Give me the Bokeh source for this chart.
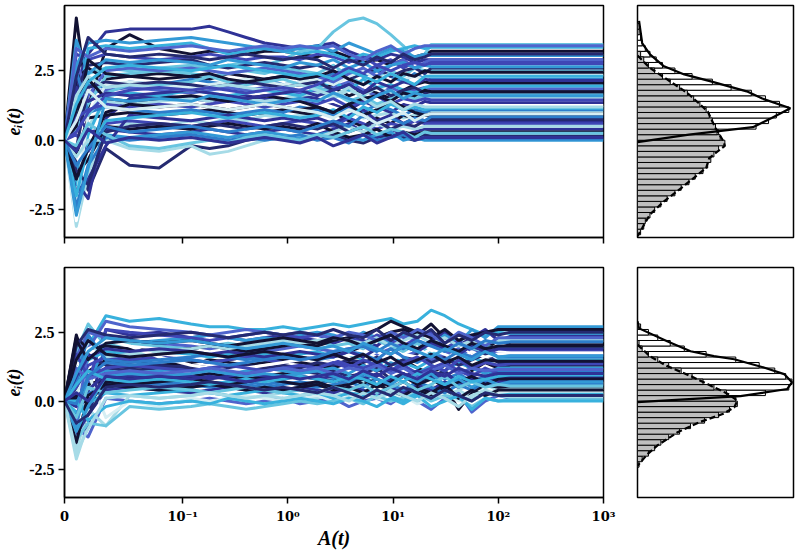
import numpy as np
from bokeh.plotting import figure
from bokeh.layouts import row, column
from bokeh.models import FixedTicker
from bokeh.embed import file_html
from bokeh.resources import INLINE

# ---------------- data ----------------
A_TOP = [0, 0.01, 0.02, 0.035, 0.055, 0.08, 0.12, 0.18, 0.27, 0.4, 0.6, 0.9, 1.3, 1.9,
         2.7, 3.8, 5.2, 7, 9.5, 12.5, 16, 20, 23]
A_BOT = [0, 0.01, 0.02, 0.035, 0.055, 0.08, 0.12, 0.18, 0.27, 0.4, 0.6, 0.9, 1.3, 1.9,
         2.7, 3.8, 5.2, 7, 9.5, 12.5, 17, 23, 31, 42, 56, 75, 100, 130]
A_END = 1000

T01 = [0, 4.4, 1.2, 3.3, 3.8, 3.3, 3.1, 3.2, 3.2, 3.1, 3.2, 3.2, 3.1, 3.0, 3.2, 3.0, 2.8, 2.9, 2.7, 2.9, 3.0, 3.1, 3.2]
T02 = [0, 2.0, 3.1, 3.9, 4.0, 4.0, 4.0, 4.1, 3.9, 3.7, 3.5, 3.4, 3.3, 3.4, 3.5, 3.2, 3.0, 2.9, 3.1, 3.0, 2.8, 2.9, 2.9]
T03 = [0, 1.5, 2.4, 2.6, 2.5, 2.6, 2.7, 2.6, 2.7, 2.8, 2.7, 2.9, 3.2, 3.3, 3.9, 4.3, 4.4, 4.2, 3.8, 3.4, 2.9, 3.1, 3.45]
T04 = [0, -0.8, -1.8, -0.3, -0.9, -1.0, -0.2, -0.3, -0.2, 0.0, 0.1, 0.1, 0.0, 0.1, 0.2, 0.0, -0.1, 0.1, 0.2, 0.1, 0.0, 0.2, 0.15]
T05 = [0, -3.1, -1.2, 0.4, 0.6, 0.5, 0.7, 0.6, 0.8, 0.7, 0.9, 0.8, 0.9, 1.0, 0.9, 1.1, 0.8, 0.9, 1.0, 0.8, 0.9, 1.0, 1.05]
T06 = [0, -1.5, -2.1, 0.8, 1.5, 1.6, 1.5, 1.4, 1.5, 1.6, 1.5, 1.4, 1.6, 1.5, 1.3, 1.1, 1.4, 1.2, 1.0, 1.3, 1.2, 1.4, 1.35]
T07 = [0, 3.1, 2.9, 3.1, 3.0, 2.9, 3.0, 3.1, 3.0, 2.9, 3.0, 3.0, 2.9, 3.1, 3.0, 2.8, 3.0, 2.7, 2.9, 2.6, 2.8, 2.7, 2.75]
T08 = [0, 0.9, 3.3, 3.4, 3.3, 3.4, 3.5, 3.3, 3.1, 3.2, 3.3, 3.2, 3.1, 3.2, 3.1, 2.9, 3.1, 3.0, 3.2, 3.3, 3.4, 3.3, 3.35]
T09 = [0, 2.2, 2.6, 2.2, 2.3, 2.4, 2.3, 2.2, 2.4, 2.3, 2.2, 2.3, 2.4, 2.2, 1.9, 1.6, 1.8, 1.7, 1.5, 1.8, 2.0, 2.1, 2.05]
T10 = [0, 1.2, 2.0, 1.9, 2.1, 2.0, 2.2, 2.1, 2.0, 2.1, 2.2, 2.0, 2.1, 2.2, 2.4, 2.6, 2.3, 2.5, 2.3, 2.1, 2.4, 2.2, 2.2]
T11 = [0, 2.8, 1.7, 1.8, 1.9, 1.8, 1.7, 1.8, 1.9, 1.8, 1.9, 1.8, 1.7, 1.8, 1.9, 2.1, 1.8, 1.6, 1.9, 1.7, 1.8, 1.9, 1.85]
T12 = [0, -2.6, 0.5, 1.4, 1.3, 1.4, 1.5, 1.4, 1.6, 1.5, 1.4, 1.5, 1.6, 1.7, 1.5, 1.8, 1.6, 1.9, 1.7, 1.6, 1.5, 1.6, 1.55]
T13 = [0, -0.5, 0.8, 0.9, 1.0, 0.9, 1.0, 1.1, 1.0, 0.9, 1.0, 1.1, 1.0, 0.9, 1.0, 0.7, 0.5, 0.8, 0.6, 0.9, 0.8, 0.9, 0.9]
T14 = [0, 0.4, 1.3, 2.3, 2.4, 2.5, 2.4, 2.3, 2.4, 2.5, 2.4, 2.6, 2.5, 2.4, 2.7, 2.3, 2.0, 2.2, 2.5, 2.3, 2.6, 2.5, 2.5]
T15 = [0, 1.0, 0.3, 0.4, 0.3, 0.2, 0.3, 0.4, 0.3, 0.2, 0.3, 0.4, 0.3, 0.2, 0.4, 0.6, 0.3, 0.1, 0.4, 0.2, 0.3, 0.4, 0.4]
T16 = [0, -1.0, -0.5, 0.2, 0.1, 0.2, 0.3, 0.2, 0.1, 0.2, 0.3, 0.2, 0.1, 0.2, 0.3, 0.1, 0.0, 0.2, 0.3, 0.0, 0.1, 0.0, 0.0]
T17 = [0, -2.9, -0.6, 1.1, 1.2, 1.1, 1.2, 1.3, 1.2, 1.1, 1.2, 1.3, 1.2, 1.3, 1.4, 1.2, 1.5, 1.3, 1.2, 1.4, 1.3, 1.2, 1.25]
T18 = [0, 1.8, 2.7, 2.8, 2.7, 2.8, 2.9, 2.7, 2.6, 2.7, 2.8, 2.7, 2.6, 2.7, 2.5, 2.2, 2.4, 2.6, 2.3, 2.5, 2.6, 2.4, 2.6]
T19 = [0, -1.6, 0.2, 1.6, 1.7, 1.6, 1.8, 1.7, 1.6, 1.7, 1.8, 1.7, 1.6, 1.9, 2.1, 1.8, 2.2, 1.9, 2.0, 1.8, 1.7, 1.9, 1.95]
T20 = [0, 0.2, -0.4, 0.6, 0.7, 0.6, 0.5, 0.6, 0.7, 0.6, 0.5, 0.6, 0.7, 0.6, 0.5, 0.8, 0.6, 0.4, 0.6, 0.5, 0.7, 0.6, 0.6]
T21 = [0, -1.2, -0.7, 0.5, 0.4, 0.5, 0.4, 0.5, 0.6, 0.5, 0.4, 0.5, 0.4, 0.6, 0.3, 0.1, 0.2, 0.4, 0.1, 0.3, 0.2, 0.3, 0.3]
T22 = [0, 2.5, 1.0, 1.2, 1.1, 1.0, 1.1, 1.0, 0.9, 1.0, 1.1, 1.0, 1.2, 1.1, 0.9, 1.2, 1.0, 1.3, 1.1, 0.9, 1.1, 1.0, 1.1]
T23 = [0, -2.2, 0.9, 2.0, 2.1, 2.0, 1.9, 2.0, 2.1, 2.2, 2.1, 2.0, 2.1, 2.2, 2.0, 2.3, 2.5, 2.2, 2.4, 2.2, 2.3, 2.2, 2.35]
T24 = [0, 0.6, 1.6, 2.5, 2.6, 2.5, 2.6, 2.5, 2.4, 2.5, 2.6, 2.5, 2.4, 2.3, 2.1, 2.4, 2.6, 2.3, 2.7, 2.9, 2.6, 2.8, 2.9]
T25 = [0, -1.9, -1.4, -0.2, 0.9, 0.8, 0.7, 0.8, 0.9, 0.8, 0.7, 0.8, 0.7, 0.8, 0.6, 0.9, 1.1, 0.7, 0.9, 0.6, 0.8, 0.7, 0.7]
T26 = [0, 1.4, 0.9, 1.7, 2.0, 2.0, 2.1, 2.3, 2.1, 2.0, 2.1, 2.2, 2.0, 1.9, 1.7, 1.4, 1.6, 1.3, 1.5, 1.7, 1.5, 1.6, 1.65]
T27 = [0, -0.3, 1.9, 2.1, 2.0, 2.1, 2.0, 1.9, 2.0, 2.1, 2.0, 1.9, 2.0, 2.1, 1.8, 2.0, 1.7, 1.9, 1.6, 1.8, 1.9, 1.7, 1.75]
T28 = [0, 2.7, 3.5, 3.6, 3.5, 3.6, 3.7, 3.6, 3.5, 3.4, 3.3, 3.2, 3.3, 3.4, 3.2, 3.5, 3.3, 3.1, 3.3, 3.2, 3.0, 3.1, 3.05]
T29 = [0, -0.6, 0.0, 0.0, -0.3, -0.4, -0.2, -0.5, -0.4, -0.2, 0.0, 0.1, 0.2, 0.1, 0.3, 0.5, 0.3, 0.6, 0.4, 0.5, 0.4, 0.5, 0.5]
T30 = [0, 0.8, 1.1, 1.3, 1.2, 1.3, 1.2, 1.3, 1.4, 1.3, 1.2, 1.3, 1.4, 1.3, 1.5, 1.2, 1.4, 1.6, 1.3, 1.5, 1.4, 1.5, 1.45]
T31 = [0, -2.4, -0.9, 0.1, 0.0, 0.1, 0.2, 0.1, 0.0, 0.1, 0.0, 0.1, 0.2, 0.0, 0.1, -0.1, 0.2, 0.0, 0.1, 0.2, 0.0, 0.1, 0.05]
T32 = [0, 1.1, 2.2, 1.5, 1.4, 1.5, 1.6, 1.5, 1.4, 1.5, 1.6, 1.5, 1.4, 1.2, 1.0, 1.3, 0.9, 1.1, 1.4, 1.2, 1.0, 0.9, 0.95]
T33 = [0, 3.6, 2.4, 2.9, 2.8, 2.9, 2.8, 2.7, 2.9, 2.8, 2.7, 2.6, 2.8, 2.7, 2.9, 2.6, 2.8, 2.5, 2.7, 2.8, 2.6, 2.7, 2.65]
T34 = [0, -1.1, -1.6, 0.3, 0.5, 0.6, 0.5, 0.6, 0.5, 0.4, 0.5, 0.6, 0.5, 0.4, 0.6, 0.3, 0.5, 0.7, 0.4, 0.6, 0.5, 0.7, 0.75]
T35 = [0, 0.5, 2.9, 2.4, 2.3, 2.2, 2.3, 2.4, 2.2, 2.1, 2.2, 2.3, 2.2, 2.3, 2.5, 2.2, 2.0, 2.3, 2.1, 2.4, 2.3, 2.5, 2.45]
T36 = [0, -2.0, -0.2, 0.7, 0.8, 0.9, 1.0, 0.9, 0.8, 0.9, 1.0, 0.9, 0.8, 0.9, 1.1, 0.8, 1.2, 1.0, 1.3, 1.1, 1.2, 1.1, 1.15]
T37 = [0, 1.9, 1.4, 1.7, 1.6, 1.7, 1.8, 1.7, 1.6, 1.5, 1.6, 1.7, 1.8, 1.6, 1.8, 2.0, 1.7, 2.1, 1.9, 2.1, 2.0, 2.2, 2.15]
T38 = [0, -0.2, 0.6, 0.2, -0.2, -0.3, -0.1, 0.0, -0.1, 0.1, 0.2, 0.1, 0.0, 0.2, 0.1, 0.3, 0.5, 0.2, 0.4, 0.3, 0.1, 0.3, 0.25]
T39 = [0, 3.3, 3.0, 3.3, 3.2, 3.3, 3.4, 3.3, 3.2, 3.3, 3.4, 3.3, 3.4, 3.3, 3.4, 3.1, 2.9, 3.2, 3.4, 3.1, 3.3, 3.4, 3.4]
T40 = [0, -1.4, -0.3, 1.0, 1.3, 1.2, 1.3, 1.2, 1.1, 1.2, 1.3, 1.2, 1.1, 1.2, 1.0, 1.3, 1.5, 1.6, 1.4, 1.7, 1.6, 1.8, 1.75]
T41 = [0, 1.6, 2.3, 1.9, 2.0, 1.9, 1.8, 1.9, 2.0, 1.9, 1.8, 1.9, 2.0, 1.8, 1.6, 1.9, 1.5, 1.2, 1.4, 1.1, 1.3, 1.2, 1.2]
T42 = [0, 0.3, 1.0, 1.6, 1.8, 1.9, 1.8, 1.9, 1.8, 1.7, 1.8, 1.9, 1.8, 2.0, 2.3, 2.6, 2.4, 2.7, 2.5, 2.7, 2.8, 2.7, 2.8]
T43 = [0, -0.9, -0.3, 0.5, 0.3, 0.4, 0.5, 0.4, 0.3, 0.4, 0.5, 0.4, 0.3, 0.5, 0.7, 0.5, 0.9, 0.6, 0.8, 0.6, 0.8, 0.7, 0.85]
T44 = [0, 2.3, 3.7, 3.1, 3.0, 3.1, 3.0, 2.9, 3.0, 3.1, 3.0, 2.9, 3.0, 2.9, 2.6, 2.9, 2.7, 3.0, 2.8, 3.1, 2.9, 3.0, 3.1]
T45 = [0, -2.7, -1.0, 1.5, 1.4, 1.5, 1.4, 1.6, 1.5, 1.4, 1.3, 1.4, 1.5, 1.4, 1.7, 1.5, 1.3, 1.6, 1.8, 1.5, 1.7, 1.6, 1.6]
T46 = [0, 0.7, 1.8, 1.2, 1.1, 1.2, 1.3, 1.2, 1.1, 1.2, 1.3, 1.2, 1.1, 1.0, 0.8, 1.1, 0.9, 0.6, 0.8, 1.0, 0.7, 0.9, 0.95]
T47 = [0, 1.3, 2.1, 2.6, 2.7, 2.6, 2.5, 2.6, 2.7, 2.6, 2.5, 2.4, 2.3, 2.4, 2.2, 2.5, 2.3, 2.1, 2.4, 2.2, 2.0, 2.3, 2.3]
T48 = [0, -0.4, 0.4, -0.1, 0.1, 0.0, 0.1, 0.0, -0.1, 0.0, 0.1, 0.0, -0.1, 0.1, -0.2, 0.0, 0.2, -0.1, 0.1, 0.3, 0.0, 0.1, 0.1]

B01 = [0, 2.4, 1.0, 1.5, 1.4, 1.6, 1.5, 1.4, 1.5, 1.6, 1.5, 1.4, 1.5, 1.6, 1.7, 1.8, 2.0, 2.3, 2.5, 2.6, 2.4, 2.8, 2.3, 2.0, 2.3, 1.9, 2.2, 2.05]
B02 = [0, 1.3, 2.0, 3.1, 2.9, 3.0, 2.8, 2.7, 2.7, 2.6, 2.6, 2.7, 2.6, 2.7, 2.8, 2.7, 2.8, 2.9, 3.0, 2.8, 2.9, 3.3, 3.1, 2.8, 2.6, 2.4, 2.5, 2.45]
B03 = [0, -2.1, -0.8, 0.9, 0.8, 0.7, 0.8, 0.9, 0.8, 0.7, 0.8, 0.7, 0.6, 0.7, 0.8, 0.6, 0.7, 0.5, 0.8, 0.4, 0.6, 0.3, 0.7, 0.5, 0.2, 0.6, 0.4, 0.45]
B04 = [0, -1.3, -0.9, 2.6, 2.4, 2.5, 2.3, 2.4, 2.3, 2.2, 2.3, 2.4, 2.3, 2.2, 2.1, 2.3, 2.2, 2.0, 2.4, 2.1, 1.8, 2.2, 2.5, 2.0, 2.3, 2.6, 2.2, 2.35]
B05 = [0, -0.3, -0.6, 0.3, 0.0, 0.3, 0.2, 0.3, 0.4, 0.3, 0.2, 0.3, 0.2, 0.4, 0.3, 0.2, -0.3, 0.8, 0.7, 0.6, 0.5, 0.9, 0.6, 0.3, 0.5, 0.2, 0.4, 0.3]
B06 = [0, 0.4, 1.1, 1.4, 1.5, 1.3, 1.4, 1.5, 1.4, 1.3, 1.4, 1.5, 1.4, 1.3, 1.2, 1.4, 1.3, 1.1, 1.3, 1.5, 1.2, 1.0, 1.3, 1.6, 1.1, 1.4, 1.2, 1.3]
B07 = [0, 2.1, 0.5, 2.2, 2.1, 2.2, 2.3, 2.4, 2.3, 2.2, 2.3, 2.2, 2.4, 2.5, 2.4, 2.2, 2.5, 2.3, 2.1, 2.4, 2.2, 2.0, 2.4, 2.1, 2.6, 2.3, 2.7, 2.7]
B08 = [0, -1.0, -1.3, 0.1, 0.0, -0.1, 0.0, 0.1, 0.0, -0.1, 0.0, 0.1, -0.1, 0.0, 0.1, -0.2, 0.0, 0.1, -0.1, 0.2, 0.0, -0.3, 0.1, 0.3, -0.4, 0.0, 0.2, 0.1]
B09 = [0, 1.4, 1.2, 1.9, 1.8, 1.7, 1.6, 1.4, 1.3, 1.2, 1.1, 1.0, 1.1, 1.0, 0.9, 1.1, 1.0, 0.9, 1.2, 1.0, 0.8, 1.1, 0.9, 0.7, 1.0, 0.8, 0.6, 0.65]
B10 = [0, 0.9, -0.2, 0.6, 0.7, 0.6, 0.5, 0.6, 0.7, 0.6, 0.5, 0.6, 0.7, 0.6, 0.8, 0.7, 0.9, 0.6, 0.8, 1.0, 0.7, 1.1, 0.8, 1.0, 0.7, 0.9, 1.1, 1.05]
B11 = [0, -1.6, -0.4, 1.2, 1.1, 1.2, 1.3, 1.2, 1.1, 1.0, 1.1, 1.2, 1.1, 1.0, 1.1, 0.9, 1.0, 1.2, 0.8, 1.0, 0.7, 0.9, 1.1, 0.6, 0.9, 0.7, 0.8, 0.85]
B12 = [0, 1.8, 2.8, 2.0, 2.1, 2.0, 1.9, 2.0, 2.1, 2.0, 1.9, 2.0, 2.1, 2.2, 2.0, 2.1, 1.9, 2.2, 2.0, 1.8, 2.1, 1.7, 1.9, 2.2, 1.8, 2.0, 1.9, 1.95]
B13 = [0, -0.7, 0.7, 2.6, 2.5, 2.4, 2.3, 2.2, 2.3, 2.4, 2.5, 2.4, 2.3, 2.4, 2.2, 2.3, 2.1, 2.4, 2.2, 2.0, 2.3, 2.5, 1.9, 2.2, 1.8, 1.7, 1.9, 1.85]
B14 = [0, -1.8, -0.3, -0.9, 0.2, 0.1, 0.2, 0.3, 0.2, 0.1, 0.2, 0.3, 0.2, 0.1, 0.3, 0.2, 0.4, 0.1, 0.3, 0.2, 0.4, 0.6, 0.2, 0.4, 0.1, 0.3, 0.2, 0.15]
B15 = [0, 0.1, 0.6, 0.8, 0.9, 0.8, 0.9, 1.0, 0.9, 0.8, 0.9, 1.0, 0.9, 0.8, 0.7, 0.9, 0.6, 0.8, 0.5, 0.7, 0.4, 0.2, 0.5, -0.3, 0.3, 0.6, 0.5, 0.55]
B16 = [0, 0.6, 1.5, 1.8, 1.7, 1.8, 1.7, 1.6, 1.7, 1.8, 1.7, 1.6, 1.7, 1.8, 1.6, 1.7, 1.5, 1.3, 1.6, 1.4, 1.2, 1.5, 1.8, 1.3, 1.6, 1.4, 1.5, 1.5]
B17 = [0, -1.2, -0.5, 0.4, 0.5, 0.4, 0.3, 0.4, 0.5, 0.4, 0.3, 0.4, 0.5, 0.4, 0.3, 0.5, 0.4, 0.2, 0.5, 0.3, 0.6, 0.4, 0.7, 0.5, 0.8, 0.6, 0.7, 0.75]
B18 = [0, 0.3, 1.0, -0.6, 0.0, -0.2, 0.1, 0.0, 0.1, 0.2, 0.1, 0.0, 0.1, 0.2, 0.0, 0.1, 0.3, 0.1, 0.0, 0.2, -0.1, 0.1, 0.3, 0.0, 0.2, 0.4, 0.3, 0.3]
B19 = [0, 1.6, 2.5, 2.3, 2.2, 2.1, 2.0, 1.9, 2.0, 1.9, 1.8, 1.9, 2.0, 1.9, 1.8, 1.9, 2.0, 1.7, 1.9, 1.6, 1.8, 1.5, 1.7, 1.9, 1.6, 1.8, 1.7, 1.7]
B20 = [0, -0.5, 0.3, 0.5, 0.6, 0.7, 0.6, 0.5, 0.6, 0.7, 0.6, 0.7, 0.6, 0.5, 0.6, 0.7, 0.5, 0.8, 0.6, 0.4, 0.7, 0.5, 0.3, 0.6, 0.4, 0.7, 0.6, 0.6]
B21 = [0, 2.3, 1.9, 2.0, 1.9, 1.8, 1.9, 2.0, 1.9, 1.8, 1.9, 2.0, 2.1, 2.0, 2.2, 2.3, 2.4, 2.6, 2.9, 2.7, 2.5, 2.3, 2.6, 2.2, 2.4, 2.5, 2.6, 2.6]
B22 = [0, -0.9, 0.9, 1.1, 1.0, 1.1, 1.2, 1.1, 1.0, 1.1, 1.2, 1.1, 1.0, 1.1, 1.2, 1.0, 1.3, 1.1, 1.4, 1.2, 1.0, 1.3, 1.1, 1.4, 1.2, 1.0, 1.2, 1.2]
B23 = [0, 0.8, 1.7, 1.3, 1.2, 1.3, 1.2, 1.1, 1.2, 1.3, 1.2, 1.3, 1.2, 1.4, 1.3, 1.5, 1.4, 1.6, 1.3, 1.5, 1.7, 1.4, 1.6, 1.3, 1.5, 1.7, 1.4, 1.4]
B24 = [0, -1.4, -0.8, -0.9, -0.2, -0.3, -0.2, -0.1, -0.2, -0.3, -0.2, -0.1, 0.0, -0.1, 0.0, 0.1, -0.1, 0.2, 0.0, 0.1, 0.3, 0.0, 0.2, 0.1, -0.2, 0.1, 0.0, 0.05]
B25 = [0, 0.5, 1.3, 1.6, 1.5, 1.6, 1.5, 1.4, 1.5, 1.6, 1.5, 1.4, 1.5, 1.6, 1.5, 1.3, 1.2, 1.4, 1.1, 1.3, 1.0, 1.2, 1.4, 1.1, 0.9, 1.2, 1.0, 1.0]
B26 = [0, 1.0, 2.1, 1.6, 1.7, 1.8, 1.9, 2.0, 1.9, 2.0, 2.1, 2.2, 2.1, 2.2, 2.3, 2.2, 2.1, 2.3, 2.0, 2.2, 2.4, 2.1, 2.3, 2.0, 2.2, 2.1, 2.2, 2.2]
B27 = [0, -0.2, 0.4, 1.0, 0.9, 1.0, 0.9, 0.8, 0.9, 1.0, 0.9, 0.8, 0.9, 0.8, 0.9, 0.7, 0.8, 1.0, 0.7, 0.9, 1.1, 0.8, 1.0, 0.7, 0.9, 0.6, 0.9, 0.9]
B28 = [0, -0.4, -0.1, 0.3, 0.2, 0.3, 0.4, 0.3, 0.2, 0.3, 0.4, 0.3, 0.2, 0.3, 0.1, 0.3, 0.2, 0.4, 0.2, 0.0, 0.3, 0.1, 0.4, 0.2, 0.0, 0.3, 0.2, 0.25]
B29 = [0, 0.2, -0.1, 0.7, 0.6, 0.7, 0.8, 0.7, 0.6, 0.7, 0.8, 0.7, 0.6, 0.7, 0.5, 0.6, 0.8, 0.5, 0.7, 0.9, 0.6, 0.8, 0.5, 0.7, 0.9, 0.6, 0.8, 0.8]
B30 = [0, -0.8, 1.9, 2.9, 2.7, 2.6, 2.5, 2.4, 2.5, 2.6, 2.5, 2.4, 2.5, 2.4, 2.3, 2.5, 2.4, 2.2, 2.5, 2.3, 2.6, 2.4, 2.1, 2.5, 2.3, 2.0, 2.3, 2.3]
B31 = [0, 1.1, 1.9, 2.2, 2.0, 1.6, 1.3, 1.2, 1.1, 1.2, 1.3, 1.4, 1.5, 1.6, 1.5, 1.7, 1.6, 1.8, 1.5, 1.7, 1.6, 1.9, 1.7, 1.5, 1.8, 1.6, 1.7, 1.75]
B32 = [0, 0.7, 2.4, 1.5, 1.4, 1.5, 1.6, 1.7, 1.6, 1.5, 1.6, 1.7, 1.6, 1.5, 1.6, 1.8, 1.7, 1.5, 1.9, 1.6, 1.4, 1.7, 1.5, 1.8, 1.6, 1.9, 1.6, 1.6]
B33 = [0, 1.7, 0.9, 1.2, 1.3, 1.2, 1.1, 1.2, 1.3, 1.2, 1.1, 1.2, 1.3, 1.2, 1.4, 1.2, 1.5, 1.3, 1.1, 1.4, 1.6, 1.3, 1.1, 1.5, 1.2, 1.4, 1.3, 1.35]
B34 = [0, -1.5, 0.2, 0.6, 0.5, 0.4, 0.5, 0.6, 0.5, 0.4, 0.5, 0.4, 0.5, 0.6, 0.4, 0.5, 0.3, 0.6, 0.4, 0.2, 0.5, 0.3, 0.6, 0.1, 0.4, 0.2, 0.4, 0.4]
B35 = [0, 2.0, 2.6, 2.4, 2.3, 2.4, 2.5, 2.4, 2.3, 2.4, 2.5, 2.4, 2.5, 2.4, 2.6, 2.4, 2.3, 2.6, 2.2, 2.5, 2.3, 2.6, 2.1, 2.4, 2.2, 2.5, 2.4, 2.5]
B36 = [0, 0.0, -0.7, -0.2, 0.0, -0.1, 0.0, -0.1, 0.1, 0.0, -0.1, 0.0, 0.1, 0.0, -0.1, 0.1, 0.0, -0.2, 0.1, -0.1, 0.2, -0.2, 0.0, 0.2, -0.3, 0.1, 0.0, 0.0]
B37 = [0, 0.9, 1.6, 1.9, 1.8, 1.9, 1.8, 1.7, 1.8, 1.7, 1.6, 1.7, 1.8, 1.7, 1.6, 1.8, 1.6, 1.9, 1.7, 2.0, 1.8, 2.1, 1.9, 1.7, 2.0, 1.8, 1.9, 1.9]
B38 = [0, -1.1, -0.2, 0.9, 1.0, 0.9, 1.0, 1.1, 1.0, 0.9, 1.0, 0.9, 1.0, 1.1, 0.9, 0.7, 1.0, 0.8, 0.6, 0.9, 0.7, 1.0, 0.6, 0.8, 0.5, 0.8, 0.6, 0.7]
B39 = [0, 2.2, 1.5, 2.1, 2.2, 2.1, 2.2, 2.1, 2.0, 2.1, 2.2, 2.3, 2.2, 2.1, 2.3, 2.2, 2.0, 2.2, 2.4, 2.1, 1.9, 2.2, 2.0, 1.8, 2.1, 1.9, 2.0, 2.0]
B40 = [0, -0.6, 0.5, 0.3, 0.4, 0.5, 0.4, 0.3, 0.4, 0.5, 0.4, 0.3, 0.4, 0.3, 0.5, 0.4, 0.6, 0.3, 0.5, 0.7, 0.4, 0.6, 0.9, 0.5, 0.7, 0.5, 0.6, 0.55]
B41 = [0, 1.2, 0.8, 1.0, 1.1, 1.0, 1.1, 1.2, 1.1, 1.0, 1.1, 1.2, 1.1, 1.2, 1.0, 1.2, 1.1, 1.3, 1.0, 1.2, 0.9, 1.1, 1.3, 1.0, 1.2, 1.1, 1.15, 1.15]
B42 = [0, -1.9, -1.0, 0.1, 0.2, 0.1, 0.2, 0.3, 0.2, 0.1, 0.2, 0.1, 0.2, 0.3, 0.2, 0.0, 0.3, 0.1, 0.4, 0.2, 0.0, 0.3, 0.1, -0.2, 0.2, 0.4, 0.2, 0.2]
B43 = [0, 1.5, 2.2, 1.7, 1.6, 1.7, 1.8, 1.7, 1.6, 1.7, 1.8, 1.7, 1.6, 1.5, 1.7, 1.5, 1.7, 1.4, 1.6, 1.3, 1.5, 1.7, 1.4, 1.6, 1.3, 1.5, 1.45, 1.45]
B44 = [0, 0.6, 1.1, 0.8, 0.7, 0.8, 0.7, 0.6, 0.7, 0.8, 0.7, 0.8, 0.9, 0.8, 0.7, 0.9, 0.8, 0.6, 0.9, 0.7, 1.0, 0.8, 0.6, 0.9, 0.7, 0.8, 0.9, 0.95]
B45 = [0, -0.1, 0.9, 1.4, 1.3, 1.4, 1.5, 1.4, 1.3, 1.4, 1.5, 1.6, 1.5, 1.6, 1.8, 1.9, 2.0, 1.8, 2.1, 1.9, 2.2, 2.0, 1.8, 2.1, 1.9, 2.2, 2.1, 2.15]
B46 = [0, -0.8, -0.5, 0.5, 0.6, 0.5, 0.6, 0.7, 0.6, 0.5, 0.4, 0.5, 0.4, 0.3, 0.5, 0.3, 0.1, 0.4, 0.2, 0.5, 0.3, 0.1, 0.4, 0.2, 0.0, 0.3, 0.2, 0.2]
B47 = [0, 1.0, 1.8, 2.3, 2.2, 2.1, 2.2, 2.1, 2.0, 1.9, 2.0, 2.1, 2.0, 1.9, 2.0, 1.8, 2.1, 1.9, 1.7, 2.0, 1.8, 1.6, 1.9, 1.7, 1.5, 1.8, 1.6, 1.65]
B48 = [0, 0.3, 0.0, 0.9, 0.8, 0.9, 0.8, 0.9, 0.8, 0.7, 0.8, 0.9, 0.8, 0.9, 1.0, 0.8, 1.1, 0.9, 1.2, 1.0, 0.8, 1.1, 0.9, 1.2, 1.0, 0.9, 1.0, 1.0]

TOP_SERIES = [T01, T02, T03, T04, T05, T06, T07, T08, T09, T10, T11, T12, T13, T14, T15, T16,
              T17, T18, T19, T20, T21, T22, T23, T24, T25, T26, T27, T28, T29, T30, T31, T32,
              T33, T34, T35, T36, T37, T38, T39, T40, T41, T42, T43, T44, T45, T46, T47, T48]
BOT_SERIES = [B01, B02, B03, B04, B05, B06, B07, B08, B09, B10, B11, B12, B13, B14, B15, B16,
              B17, B18, B19, B20, B21, B22, B23, B24, B25, B26, B27, B28, B29, B30, B31, B32,
              B33, B34, B35, B36, B37, B38, B39, B40, B41, B42, B43, B44, B45, B46, B47, B48]

# histograms (bin centres, bin width 0.2) and density curves, top panel
TOP_GRAY_E = [-3.3, -3.1, -2.9, -2.7, -2.5, -2.3, -2.1, -1.9, -1.7, -1.5, -1.3, -1.1, -0.9, -0.7, -0.5, -0.3, -0.1,
              0.1, 0.3, 0.5, 0.7, 0.9, 1.1, 1.3, 1.5, 1.7, 1.9, 2.1, 2.3, 2.5, 2.7, 2.9, 3.1]
TOP_GRAY_D = [0.02, 0.04, 0.05, 0.08, 0.11, 0.15, 0.19, 0.24, 0.28, 0.33, 0.37, 0.42, 0.45, 0.47, 0.49, 0.52, 0.56,
              0.53, 0.51, 0.50, 0.48, 0.46, 0.44, 0.40, 0.36, 0.32, 0.27, 0.21, 0.16, 0.11, 0.07, 0.04, 0.02]
TOP_WHITE_E = [0.1, 0.3, 0.5, 0.7, 0.9, 1.1, 1.3, 1.5, 1.7, 1.9, 2.1, 2.3, 2.5, 2.7, 2.9, 3.1, 3.3, 3.5, 3.7, 3.9, 4.1]
TOP_WHITE_D = [0.20, 0.52, 0.76, 0.84, 0.89, 0.97, 0.91, 0.82, 0.73, 0.60, 0.48, 0.35, 0.24, 0.16, 0.12, 0.08, 0.05,
               0.03, 0.02, 0.01, 0.01]
TOP_SOLID_E = [-0.07, 0.2, 0.47, 0.8, 1.15, 1.5, 1.76, 2.12, 2.37, 2.66, 3.09, 3.5, 4.3]
TOP_SOLID_D = [0.0, 0.33, 0.74, 0.86, 0.98, 0.80, 0.70, 0.47, 0.30, 0.17, 0.08, 0.03, 0.01]
TOP_DASH_E = [3.05, 2.6, 2.19, 1.7, 1.04, 0.44, -0.03, -0.2, -0.64, -1.0, -1.36, -1.72, -2.2, -2.67, -3.16, -3.45]
TOP_DASH_D = [0.0, 0.08, 0.19, 0.32, 0.45, 0.50, 0.55, 0.56, 0.46, 0.44, 0.36, 0.28, 0.17, 0.08, 0.03, 0.0]

# bottom panel
BOT_GRAY_E = [-2.3, -2.1, -1.9, -1.7, -1.5, -1.3, -1.1, -0.9, -0.7, -0.5, -0.3, -0.1,
              0.1, 0.3, 0.5, 0.7, 0.9, 1.1, 1.3, 1.5, 1.7, 1.9, 2.1]
BOT_GRAY_D = [0.01, 0.03, 0.07, 0.11, 0.15, 0.20, 0.27, 0.34, 0.43, 0.52, 0.59, 0.64,
              0.63, 0.57, 0.49, 0.42, 0.35, 0.28, 0.20, 0.13, 0.07, 0.03, 0.01]
BOT_WHITE_E = [0.1, 0.3, 0.5, 0.7, 0.9, 1.1, 1.3, 1.5, 1.7, 1.9, 2.1, 2.3, 2.5, 2.7]
BOT_WHITE_D = [0.40, 0.82, 0.97, 0.99, 0.95, 0.88, 0.78, 0.63, 0.44, 0.30, 0.21, 0.13, 0.07, 0.02]
BOT_SOLID_E = [-0.04, 0.18, 0.44, 0.68, 0.98, 1.22, 1.52, 1.63, 1.81, 2.17, 2.64, 2.9]
BOT_SOLID_D = [0.0, 0.66, 0.96, 0.99, 0.94, 0.81, 0.62, 0.49, 0.34, 0.19, 0.01, 0.0]
BOT_DASH_E = [2.05, 1.63, 1.27, 0.91, 0.56, 0.26, 0.02, -0.23, -0.46, -0.76, -1.12, -1.6, -1.95, -2.35]
BOT_DASH_D = [0.0, 0.08, 0.19, 0.34, 0.47, 0.58, 0.64, 0.62, 0.55, 0.40, 0.26, 0.13, 0.06, 0.0]

XTICK_A = [0, 0.1, 1, 10, 100, 1000]
XTICK_LABELS = ["0", "10\u207b\u00b9", "10\u2070", "10\u00b9", "10\u00b2", "10\u00b3"]
YTICKS = [-2.5, 0.0, 2.5]
YTICK_LABELS = ["-2.5", "0.0", "2.5"]
Y_TITLE = "e\u1d62(t)"
X_TITLE = "A(t)"

# ---------------- styles ----------------
K, N, I, V, P = "#121233", "#252a70", "#2f3296", "#3f47b6", "#4f64cc"
B, C, S, L, LL, W2, WH = "#2d7dcb", "#3399d6", "#38b1dd", "#68c5e0", "#a6dbe7", "#d6eef3", "#ffffff"
TOP_COLORS = [K, I, L, N, LL, I, V, S, K, B, P, LL, K, L, I, C,
              WH, N, S, V, K, B, W2, P, I, L, N, C, LL, V, B, K,
              C, N, K, S, I, L, P, K, LL, V, B, N, C, W2, S, I]
BOT_COLORS = [K, S, LL, I, WH, K, C, P, WH, B, N, L, V, LL, K, S,
              I, W2, P, B, K, C, N, L, V, LL, I, S, K, P, WH, B,
              V, K, N, S, I, C, K, L, P, LL, K, S, B, N, C, I]

FONT = "Liberation Serif"
TICK_FONT = "DejaVu Serif"
LINTHRESH = 0.1
LINSCALE = 1.124
Y_RANGE = (-3.5, 4.85)
BIN_H = 0.2


def symlog(a):
    a = np.asarray(a, dtype=float)
    return np.where(a <= LINTHRESH, a / LINTHRESH * LINSCALE,
                    LINSCALE + np.log10(np.maximum(a, LINTHRESH) / LINTHRESH))


X_MAX = float(symlog([A_END])[0])
XTICK_POS = [float(v) for v in symlog(XTICK_A)]


def main_panel(height, top, bottom, series, colors, agrid, show_xlabels):
    p = figure(width=620, height=height, x_range=(0, X_MAX), y_range=Y_RANGE,
               output_backend="svg", toolbar_location=None,
               min_border_left=64, min_border_right=17, min_border_top=top, min_border_bottom=bottom)
    p.grid.visible = False
    p.outline_line_color = "black"
    p.outline_line_width = 1.5
    xs = list(symlog(list(agrid) + [A_END]))
    for s, col in zip(series, colors):
        ys = list(s) + [s[-1]]
        p.line(xs, ys, line_color=col, line_width=3.0, line_join="round")
    p.xaxis.ticker = FixedTicker(ticks=XTICK_POS)
    p.yaxis.ticker = FixedTicker(ticks=YTICKS)
    p.yaxis.major_label_overrides = {t: l for t, l in zip(YTICKS, YTICK_LABELS)}
    p.yaxis.axis_label = Y_TITLE
    p.yaxis.axis_label_text_font = FONT
    p.yaxis.axis_label_text_font_style = "bold italic"
    p.yaxis.axis_label_text_font_size = "18px"
    p.yaxis.axis_label_text_color = "black"
    p.yaxis.axis_label_standoff = 2
    if show_xlabels:
        p.xaxis.major_label_overrides = {t: l for t, l in zip(XTICK_POS, XTICK_LABELS)}
        p.xaxis.axis_label = X_TITLE
        p.xaxis.axis_label_text_font = FONT
        p.xaxis.axis_label_text_font_style = "bold italic"
        p.xaxis.axis_label_text_font_size = "20px"
        p.xaxis.axis_label_text_color = "black"
        p.xaxis.axis_label_standoff = 0
        p.xaxis.major_label_text_font_size = "13px"
    else:
        p.xaxis.major_label_overrides = {t: "" for t in XTICK_POS}
        p.xaxis.major_label_text_font_size = "0px"
    for ax in (p.xaxis, p.yaxis):
        ax.axis_line_color = "black"
        ax.axis_line_width = 1.5
        ax.major_tick_line_color = "black"
        ax.major_tick_line_width = 1.5
        ax.major_tick_out = 6
        ax.major_tick_in = 0
        ax.minor_tick_line_color = None
        ax.major_label_text_font_style = "bold"
        ax.major_label_text_color = "black"
    p.xaxis.major_label_text_font = TICK_FONT
    p.yaxis.major_label_text_font = FONT
    p.xaxis.major_label_standoff = 5
    p.yaxis.major_label_standoff = 4
    p.yaxis.major_label_text_font_size = "16px"
    return p


def hist_panel(height, top, bottom, we, wd, ge, gd, se, sd, de, dd):
    h = figure(width=180, height=height, x_range=(0, 1.0), y_range=Y_RANGE,
               output_backend="svg", toolbar_location=None,
               x_axis_location=None, y_axis_location=None,
               min_border_left=17, min_border_right=7, min_border_top=top, min_border_bottom=bottom)
    h.grid.visible = False
    h.outline_line_color = "black"
    h.outline_line_width = 1.5
    h.hbar(y=we, height=BIN_H, left=0, right=wd, fill_color="white", line_color="black", line_width=1)
    h.hbar(y=ge, height=BIN_H, left=0, right=gd, fill_color="#bfbfbf", line_color="black", line_width=1)
    h.line(sd, se, line_color="black", line_width=2.2)
    h.line(dd, de, line_color="black", line_width=2.2, line_dash="6 3")
    return h


p1 = main_panel(252, 5, 15, TOP_SERIES, TOP_COLORS, A_TOP, False)
h1 = hist_panel(252, 5, 15, TOP_WHITE_E, TOP_WHITE_D, TOP_GRAY_E, TOP_GRAY_D,
                TOP_SOLID_E, TOP_SOLID_D, TOP_DASH_E, TOP_DASH_D)
p2 = main_panel(299, 15, 51, BOT_SERIES, BOT_COLORS, A_BOT, True)
h2 = hist_panel(299, 15, 51, BOT_WHITE_E, BOT_WHITE_D, BOT_GRAY_E, BOT_GRAY_D,
                BOT_SOLID_E, BOT_SOLID_D, BOT_DASH_E, BOT_DASH_D)

layout = column(row(p1, h1), row(p2, h2))
open("out.html", "w").write(file_html(layout, INLINE))
